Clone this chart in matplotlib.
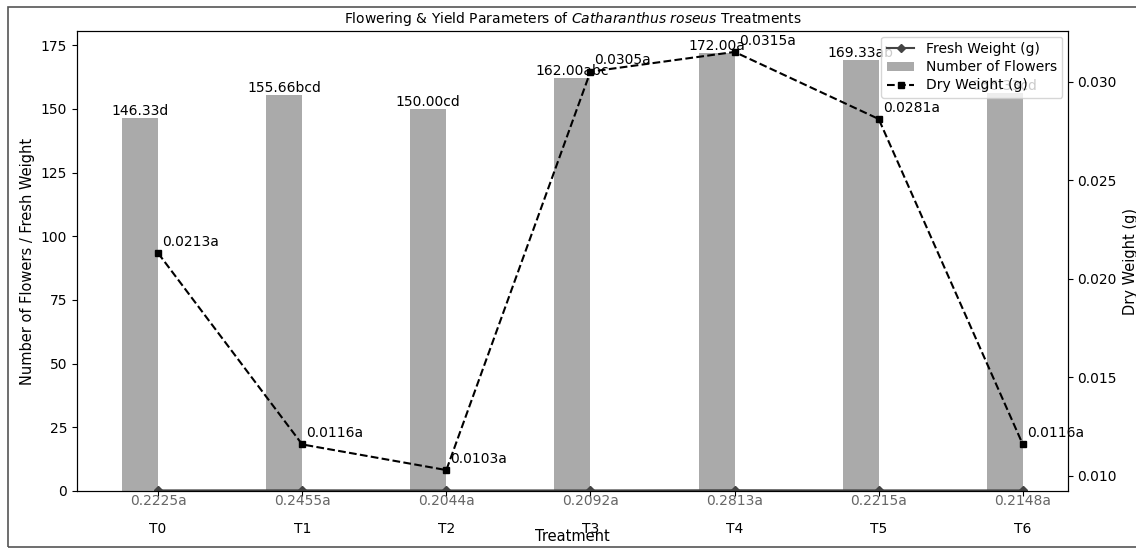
import matplotlib
matplotlib.use('Agg')
import matplotlib.pyplot as plt
from matplotlib.patches import Rectangle
import numpy as np

treatments = ['T0', 'T1', 'T2', 'T3', 'T4', 'T5', 'T6']
flowers = [146.33, 155.66, 150.00, 162.00, 172.00, 169.33, 156.33]
flower_letters = ['d', 'bcd', 'cd', 'abc', 'a', 'ab', 'cd']
fresh_weight = [0.2225, 0.2455, 0.2044, 0.2092, 0.2813, 0.2215, 0.2148]
fresh_letters = ['a', 'a', 'a', 'a', 'a', 'a', 'a']
dry_weight = [0.0213, 0.0116, 0.0103, 0.0305, 0.0315, 0.0281, 0.0116]
dry_letters = ['a', 'a', 'a', 'a', 'a', 'a', 'a']

fig, ax1 = plt.subplots(figsize=(11.36, 5.5), dpi=100)
fig.subplots_adjust(left=0.0678, right=0.940, top=0.9436, bottom=0.1073)

x = np.arange(len(treatments))
width = 0.25

# barras de numero de flores (a la izquierda del tick)
bars = ax1.bar(x - width / 2, flowers, width, color='#aaaaaa', label='Number of Flowers')
fresh_line, = ax1.plot(x, fresh_weight, marker='D', markersize=4, color='#444444',
                       label='Fresh Weight (g)')

for xi, v, l in zip(x, flowers, flower_letters):
    ax1.text(xi - width / 2, v, f'{v:.2f}{l}', ha='center', va='bottom', fontsize=10)

for xi, v, l in zip(x, fresh_weight, fresh_letters):
    ax1.annotate(f'{v:.4f}{l}', (xi, 0), xytext=(0, -2), textcoords='offset points',
                 ha='center', va='top', color='#666666', fontsize=10, annotation_clip=False)

ax1.set_xticks(x, treatments)
ax1.tick_params(axis='x', pad=19)
ax1.set_xlabel('Treatment', labelpad=-5, fontsize=10.5)
ax1.set_ylabel('Number of Flowers / Fresh Weight', fontsize=10.5)
ax1.set_title(r'Flowering & Yield Parameters of $\it{Catharanthus\ roseus}$ Treatments', fontsize=10)

# peso seco en el eje derecho
ax2 = ax1.twinx()
dry_line, = ax2.plot(x, dry_weight, 'k--s', markersize=5, label='Dry Weight (g)')
for xi, v, l in zip(x, dry_weight, dry_letters):
    ax2.annotate(f'{v:.4f}{l}', (xi, v), xytext=(3, 3), textcoords='offset points',
                 ha='left', va='bottom', fontsize=10)
ax2.set_ylabel('Dry Weight (g)', fontsize=10.5)

ax2.legend(handles=[fresh_line, bars, dry_line], loc='upper right', fontsize=10,
           labelspacing=0.3, borderaxespad=0.4)

# marco exterior de la captura
fig.patches.append(Rectangle((8 / 1136, 3 / 550), 1.2, 540 / 550, transform=fig.transFigure,
                             fill=False, edgecolor='#555555', linewidth=1.2))

fig.savefig('out.png', dpi=100)
